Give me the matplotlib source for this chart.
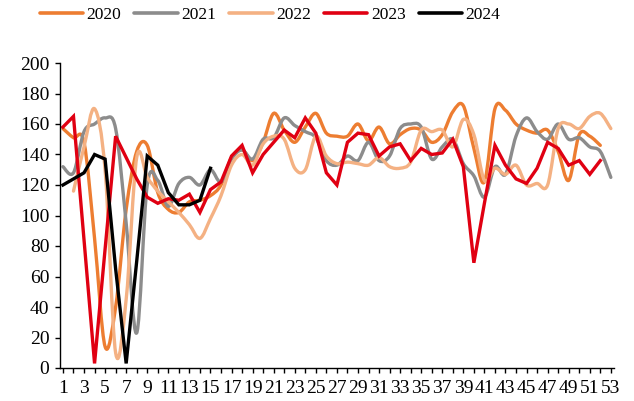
import numpy as np
import matplotlib
matplotlib.use("Agg")
import matplotlib.pyplot as plt
from matplotlib.path import Path
from matplotlib.patches import PathPatch
from matplotlib.lines import Line2D

plt.rcParams['font.family'] = ['Liberation Serif', 'DejaVu Serif']

# ---------- data (weekly values) ----------
weeks = list(range(1, 54))

y2020 = [157, 151, 148, 85, 14, 40, 104, 142, 146, 115, 104, 102, 109, 110, 113, 120, 138, 143,
         136, 148, 167, 156, 148, 158, 167, 154, 152, 152, 160, 149, 158, 147, 153, 157, 156, 148,
         153, 168, 172, 144, 122, 170, 169, 160, 156, 154, 156, 142, 123, 153, 152, 146]
y2021 = [132, 128, 155, 160, 164, 157, 95, 23, 120, 123, 106, 121, 125, 120, 130, 122, 137, 143,
         137, 150, 151, 164, 159, 155, 151, 136, 133, 139, 136, 148, 136, 139, 157, 160, 158, 137,
         145, 150, 134, 126, 112, 132, 127, 152, 164, 155, 150, 160, 150, 151, 145, 142, 125]
y2022 = [np.nan, 116, 145, 170, 130, 10, 45, 138, 125, 116, 109, 102, 94, 85, 98, 113, 133, 140,
         133, 147, 152, 150, 131, 130, 152, 139, 134, 135, 134, 133, 138, 132, 131, 135, 156, 155,
         156, 145, 163, 153, 123, 131, 127, 133, 120, 121, 120, 157, 160, 157, 165, 167, 157]
y2023 = [158, 165, 84, 3, 78, 152, 138, 124, 112, 108, 111, 110, 114, 102, 117, 122, 139, 146,
         128, 140, 148, 156, 151, 164, 154, 128, 120, 148, 154, 153, 139, 145, 147, 136, 144, 140,
         141, 150, 132, 69, 108, 146, 133, 124, 121, 131, 148, 144, 133, 136, 127, 136]
y2024 = [120, 124, 128, 140, 137, 65, 3, 70, 139, 133, 115, 107, 107, 110, 131]

years = ['2020', '2021', '2022', '2023', '2024']
series = [y2020, y2021, y2022, y2023, y2024]
colors = ['#ED7D31', '#8C8C8C', '#F4B183', '#E00012', '#000000']
smooth = [True, True, True, False, False]


# ---------- helpers ----------
def smooth_path(x, y):
    # Catmull-Rom style bezier through the points (like Excel's "smoothed line")
    pts = [(a, b) for a, b in zip(x, y) if not np.isnan(b)]
    p = np.array(pts, dtype=float)
    verts, codes = [tuple(p[0])], [Path.MOVETO]
    n = len(p)
    for i in range(n - 1):
        p0 = p[i - 1] if i > 0 else p[i]
        p1, p2 = p[i], p[i + 1]
        p3 = p[i + 2] if i + 2 < n else p[i + 1]
        c1 = p1 + (p2 - p0) / 6.0
        c2 = p2 - (p3 - p1) / 6.0
        verts += [tuple(c1), tuple(c2), tuple(p2)]
        codes += [Path.CURVE4] * 3
    return Path(verts, codes)


# ---------- plotting ----------
fig = plt.figure(figsize=(6.34, 4.01), dpi=100)
ax = fig.add_axes([60 / 634, 1 - 368 / 401, 554 / 634, 305 / 401])

for vals, col, sm in zip(series, colors, smooth):
    x = weeks[:len(vals)]
    if sm:
        ax.add_patch(PathPatch(smooth_path(x, vals), facecolor='none', edgecolor=col,
                               lw=2.4, capstyle='round', joinstyle='round'))
    else:
        ax.plot(x, vals, color=col, lw=2.4, solid_joinstyle='miter')

ax.set_xlim(0.72, 53.3)
ax.set_ylim(0, 200)
ax.set_yticks(range(0, 201, 20))
ax.set_xticks(weeks)
ax.set_xticklabels([str(w) if w % 2 == 1 else '' for w in weeks])

for s in ('top', 'right'):
    ax.spines[s].set_visible(False)
for s in ('left', 'bottom'):
    ax.spines[s].set_linewidth(1.0)
ax.tick_params(axis='both', labelsize=14, length=3.6, width=1.0, colors='black')
ax.tick_params(axis='y', pad=4)
ax.tick_params(axis='x', pad=5)

handles = [Line2D([], [], color=c, lw=2.6, solid_capstyle='round') for c in colors]
fig.legend(handles, years, loc='center', bbox_to_anchor=(270 / 634, 1 - 15 / 401), ncol=5,
           frameon=False, fontsize=12.5, handlelength=2.5, handletextpad=0.2, columnspacing=0.75)

fig.savefig('out.png', dpi=100)
